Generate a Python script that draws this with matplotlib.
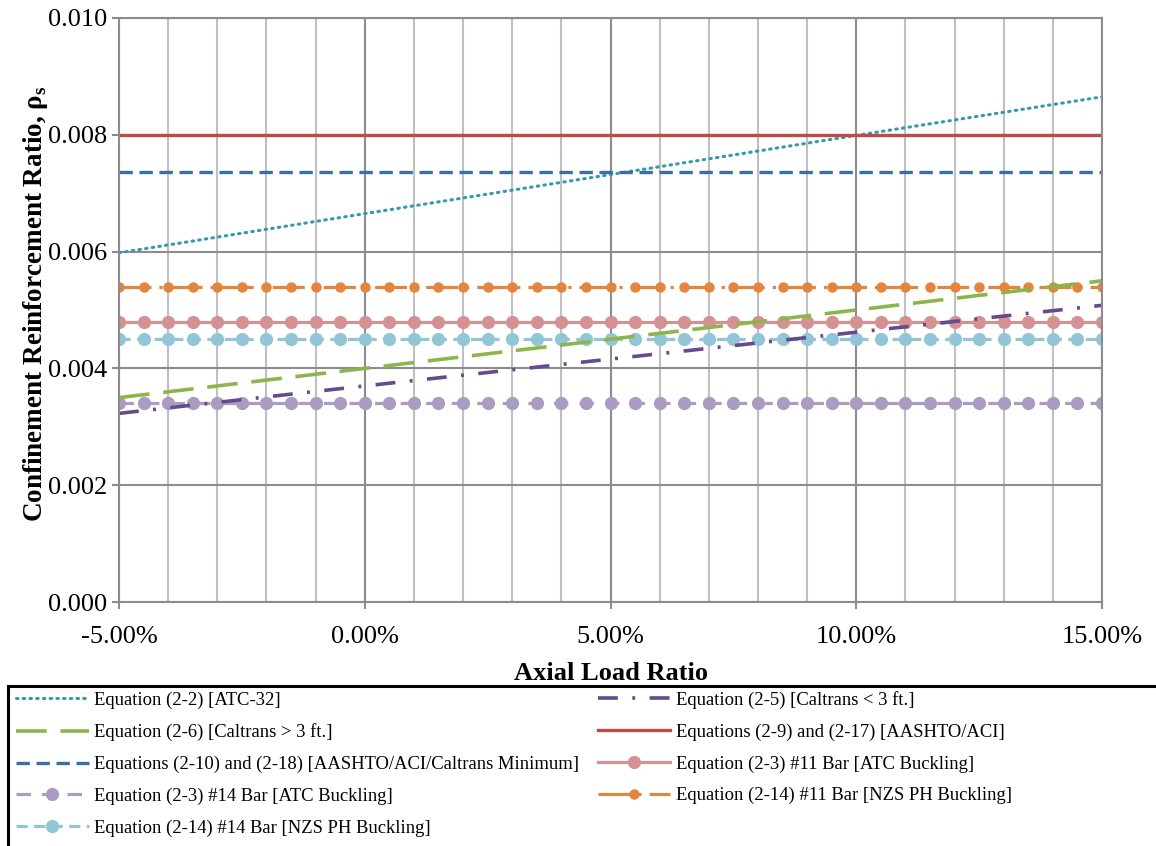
import numpy as np
import matplotlib
matplotlib.use('Agg')
import matplotlib.pyplot as plt
from matplotlib.patches import Rectangle

plt.rcParams['font.family'] = ['Liberation Serif', 'DejaVu Serif']
plt.rcParams['mathtext.fontset'] = 'custom'
plt.rcParams['mathtext.rm'] = 'Liberation Serif'

# axial load ratio in percent, points every 0.5 %
axial = np.arange(-5.0, 15.01, 0.5)
axial_major = [-5.0, 0.0, 5.0, 10.0, 15.0]

# sloped series, read at the major grid positions
atc32 = [0.00598, 0.00665, 0.00732, 0.00799, 0.00865]
caltrans_small = [0.00323, 0.00370, 0.00416, 0.00462, 0.00508]
caltrans_large = [0.00350, 0.00400, 0.00450, 0.00500, 0.00550]

# constant series
aashto = 0.0080
aashto_min = 0.00737
atc_11 = 0.0048
atc_14 = 0.0034
nzs_11 = 0.0054
nzs_14 = 0.0045

labels = {
    'atc32': 'Equation (2-2) [ATC-32]',
    'cal_s': 'Equation (2-5) [Caltrans < 3 ft.]',
    'cal_l': 'Equation (2-6) [Caltrans > 3 ft.]',
    'aashto': 'Equations (2-9) and (2-17) [AASHTO/ACI]',
    'aashto_min': 'Equations (2-10) and (2-18) [AASHTO/ACI/Caltrans Minimum]',
    'atc11': 'Equation (2-3) #11 Bar [ATC Buckling]',
    'atc14': 'Equation (2-3) #14 Bar [ATC Buckling]',
    'nzs11': 'Equation (2-14) #11 Bar [NZS PH Buckling]',
    'nzs14': 'Equation (2-14) #14 Bar [NZS PH Buckling]',
}

fig = plt.figure(figsize=(11.56, 8.46), dpi=100)
ax = fig.add_axes([119/1156, 1-602/846, 983/1156, 584/846])

ones = np.ones_like(axial)
h = {}
h['atc14'], = ax.plot(axial, atc_14*ones, color='#A99BC1', lw=2.3,
                      linestyle=(0, (4.5, 3.5)), marker='o', ms=8.5,
                      label=labels['atc14'])
h['nzs14'], = ax.plot(axial, nzs_14*ones, color='#92C5D6', lw=2.3,
                      linestyle=(0, (3.5, 2)), marker='o', ms=8.5,
                      label=labels['nzs14'])
h['atc11'], = ax.plot(axial, atc_11*ones, color='#D49191', lw=2.3,
                      linestyle='-', marker='o', ms=8.5,
                      label=labels['atc11'])
h['nzs11'], = ax.plot(axial, nzs_11*ones, color='#E3853C', lw=2.3,
                      linestyle=(0, (10, 2.5, 1, 2.5)), marker='o', ms=6.5,
                      label=labels['nzs11'])
h['cal_l'], = ax.plot(axial_major, caltrans_large, color='#8DB64A', lw=2.6,
                      linestyle=(0, (8.5, 3.8)), label=labels['cal_l'])
h['cal_s'], = ax.plot(axial_major, caltrans_small, color='#654A8C', lw=2.6,
                      linestyle=(0, (5.5, 4, 0.8, 4)), label=labels['cal_s'])
h['atc32'], = ax.plot(axial_major, atc32, color='#3299AE', lw=2.2,
                      linestyle=(0, (0.5, 1.7)), dash_capstyle='round',
                      label=labels['atc32'])
h['aashto_min'], = ax.plot([-5, 15], [aashto_min]*2, color='#3E6DA6', lw=2.4,
                           linestyle=(0, (4, 2)), label=labels['aashto_min'])
h['aashto'], = ax.plot([-5, 15], [aashto]*2, color='#BE4B48', lw=2.4,
                       linestyle='-', label=labels['aashto'])

ax.set_xlim(-5, 15)
ax.set_ylim(0, 0.010)
ax.set_xticks(axial_major)
ax.set_xticklabels(['%.2f%%' % v for v in axial_major])
ax.set_xticks(np.arange(-5, 15.01, 1), minor=True)
ax.set_yticks([0.0, 0.002, 0.004, 0.006, 0.008, 0.010])
ax.set_yticklabels(['%.3f' % v for v in ax.get_yticks()])

ax.grid(True, which='minor', axis='x', color='#C0C0C0', lw=1.5, zorder=0)
ax.grid(True, which='major', axis='both', color='#8C8C8C', lw=1.5, zorder=0)
ax.set_axisbelow(True)
for s in ax.spines.values():
    s.set_color('#8C8C8C')
    s.set_linewidth(1.5)
ax.tick_params(which='major', labelsize=19, color='#8C8C8C', length=5, width=1.5)
ax.tick_params(which='minor', length=0)
ax.tick_params(axis='x', pad=12)

ax.set_xlabel('Axial Load Ratio', fontsize=19, fontweight='bold', labelpad=10)
ax.set_ylabel(r'Confinement Reinforcement Ratio, ρ$_{\mathregular{s}}$',
              fontsize=19.5, fontweight='bold')
ax.yaxis.set_label_coords(-0.07, 0.51)

# legend box (runs off the right and bottom edges)
fig.add_artist(Rectangle((8/1156, -0.05), 1.2, 1-686/846+0.05,
                         transform=fig.transFigure, fill=False,
                         edgecolor='black', lw=2.2))

order = ['atc32', 'cal_l', 'aashto_min', 'atc14', 'nzs14',
         'cal_s', 'aashto', 'atc11', 'nzs11']
fig.legend([h[k] for k in order], [labels[k] for k in order],
           loc='upper left', bbox_to_anchor=(16/1156, 1-691/846),
           ncol=2, frameon=False, fontsize=13.4, handlelength=3.9,
           handletextpad=0.3, columnspacing=1.0, labelspacing=0.78,
           borderpad=0, borderaxespad=0, numpoints=1)

fig.savefig('out.png', dpi=100)
